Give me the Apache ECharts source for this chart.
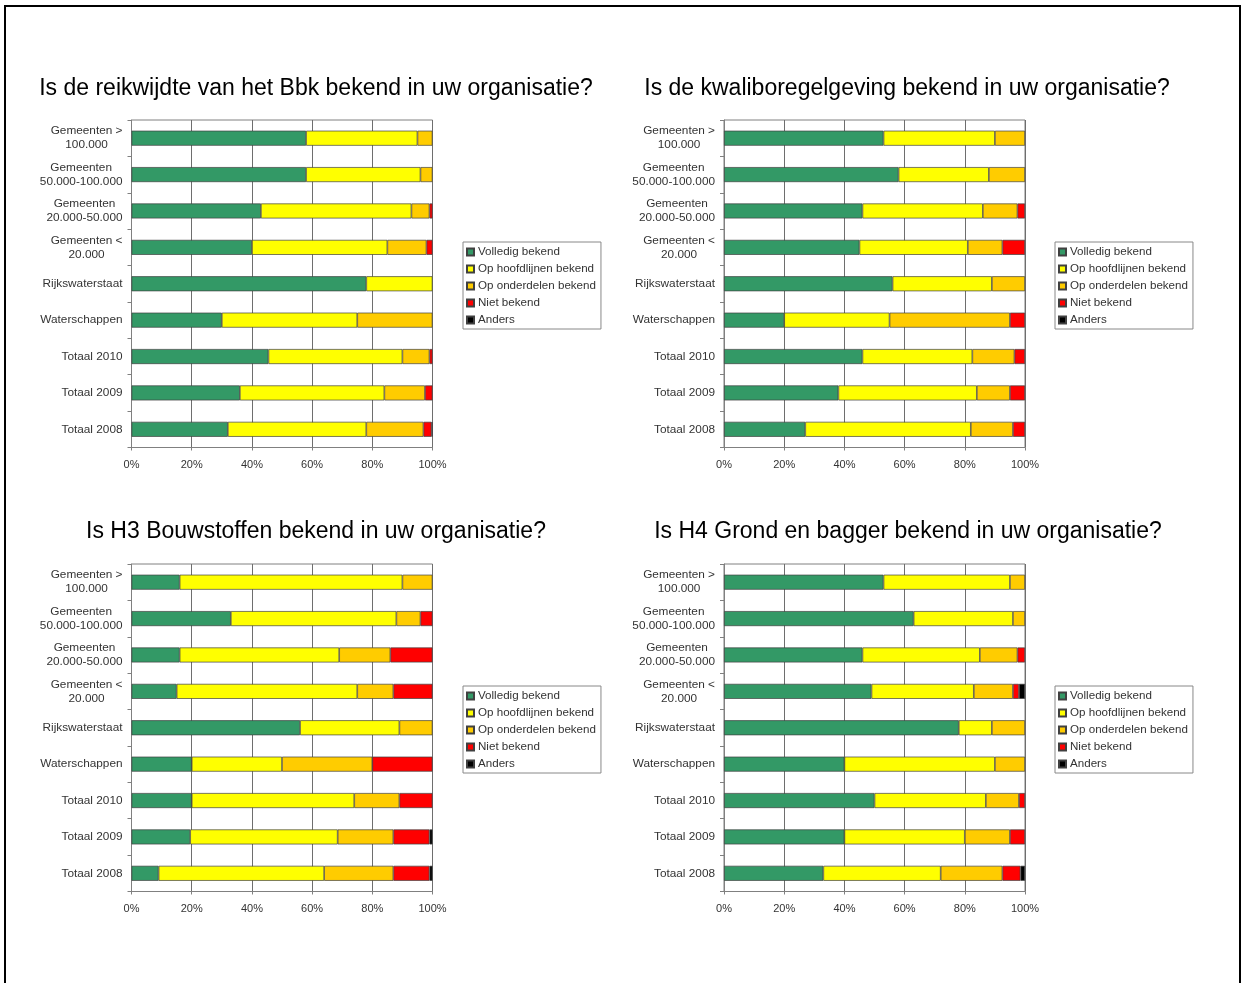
<!DOCTYPE html>
<html>
<head>
<meta charset="utf-8">
<script src="https://cdn.jsdelivr.net/npm/echarts@6/dist/echarts.min.js"></script>
<style>
  html, body { margin: 0; padding: 0; background: #fff; }
  #chart { width: 1242px; height: 983px; }
</style>
</head>
<body>
<div id="chart"></div>
<script>
// categorieën (van boven naar beneden)
const categories = [
  'Gemeenten >\n100.000', 'Gemeenten\n50.000-100.000', 'Gemeenten\n20.000-50.000',
  'Gemeenten <\n20.000', 'Rijkswaterstaat', 'Waterschappen',
  'Totaal 2010', 'Totaal 2009', 'Totaal 2008'
]

const seriesNames = ['Volledig bekend', 'Op hoofdlijnen bekend', 'Op onderdelen bekend', 'Niet bekend', 'Anders']
const seriesColors = ['#339966', '#FFFF00', '#FFCC00', '#FF0000', '#000000']

const xTicks = [0, 20, 40, 60, 80, 100]

const titles = [
  'Is de reikwijdte van het Bbk bekend in uw organisatie?',
  'Is de kwaliboregelgeving bekend in uw organisatie?',
  'Is H3 Bouwstoffen bekend in uw organisatie?',
  'Is H4 Grond en bagger bekend in uw organisatie?'
]

// Bbk reikwijdte (%)
const bbkVolledig    = [58, 58, 43, 40, 78, 30, 45.5, 36, 32]
const bbkHoofdlijnen = [37, 38, 50, 45, 22, 45, 44.5, 48, 46]
const bbkOnderdelen  = [5, 4, 6, 13, 0, 25, 9, 13.5, 19]
const bbkNiet        = [0, 0, 1, 2, 0, 0, 1, 2.5, 2.7]
const bbkAnders      = [0, 0, 0, 0, 0, 0, 0, 0, 0.3]

// kwaliboregelgeving (%)
const kwaVolledig    = [53, 58, 46, 45, 56, 20, 46, 38, 27]
const kwaHoofdlijnen = [37, 30, 40, 36, 33, 35, 36.5, 46, 55]
const kwaOnderdelen  = [10, 12, 11.5, 11.5, 11, 40, 14, 11, 14]
const kwaNiet        = [0, 0, 2.5, 7.5, 0, 5, 3.5, 5, 4]
const kwaAnders      = [0, 0, 0, 0, 0, 0, 0, 0, 0]

// H3 Bouwstoffen (%)
const h3Volledig    = [16, 33, 16, 15, 56, 20, 20, 19.5, 9]
const h3Hoofdlijnen = [74, 55, 53, 60, 33, 30, 54, 49, 55]
const h3Onderdelen  = [10, 8, 17, 12, 11, 30, 15, 18.5, 23]
const h3Niet        = [0, 4, 14, 13, 0, 20, 11, 12, 12]
const h3Anders      = [0, 0, 0, 0, 0, 0, 0, 1, 1]

// H4 Grond en bagger (%)
const h4Volledig    = [53, 63, 46, 49, 78, 40, 50, 40, 33]
const h4Hoofdlijnen = [42, 33, 39, 34, 11, 50, 37, 40, 39]
const h4Onderdelen  = [5, 4, 12.5, 13, 11, 10, 11, 15, 20.5]
const h4Niet        = [0, 0, 2.5, 2, 0, 0, 2, 5, 6]
const h4Anders      = [0, 0, 0, 2, 0, 0, 0, 0, 1.5]

const panels = [
  [bbkVolledig, bbkHoofdlijnen, bbkOnderdelen, bbkNiet, bbkAnders],
  [kwaVolledig, kwaHoofdlijnen, kwaOnderdelen, kwaNiet, kwaAnders],
  [h3Volledig, h3Hoofdlijnen, h3Onderdelen, h3Niet, h3Anders],
  [h4Volledig, h4Hoofdlijnen, h4Onderdelen, h4Niet, h4Anders]
]

// layout van de vier panelen
const layout = [
  { left: 131.5, top: 120, titleX: 316, titleY: 77, legendX: 463, legendY: 242 },
  { left: 724, top: 120, titleX: 907, titleY: 77, legendX: 1055, legendY: 242 },
  { left: 131.5, top: 564, titleX: 316, titleY: 520, legendX: 463, legendY: 686 },
  { left: 724, top: 564, titleX: 908, titleY: 520, legendX: 1055, legendY: 686 }
]

const FONT = 'Liberation Sans, Arial, sans-serif'
const axisGrey = '#808080'

const chart = echarts.init(document.getElementById('chart'), null, { renderer: 'canvas' })

const option = {
  animation: false,
  backgroundColor: '#fff',
  title: [],
  legend: [],
  grid: [],
  xAxis: [],
  yAxis: [],
  series: [],
  graphic: [{
    type: 'rect',
    shape: { x: 5, y: 6, width: 1235, height: 1100 },
    style: { fill: 'none', stroke: '#000', lineWidth: 2 },
    silent: true
  }]
}

layout.forEach((p, i) => {
  option.title.push({
    text: titles[i],
    left: p.titleX,
    top: p.titleY,
    textAlign: 'center',
    padding: 0,
    textStyle: { fontFamily: FONT, fontSize: 23, fontWeight: 'normal', color: '#000' }
  })
  option.grid.push({
    left: p.left, top: p.top, width: 301, height: 327.5,
    show: true, borderColor: axisGrey, borderWidth: 1, backgroundColor: 'transparent'
  })
  option.xAxis.push({
    gridIndex: i,
    type: 'value',
    min: xTicks[0],
    max: xTicks[xTicks.length - 1],
    interval: 20,
    axisLine: { show: true, lineStyle: { color: axisGrey, width: 1 } },
    axisTick: { show: true, length: 3, lineStyle: { color: axisGrey } },
    splitLine: { show: true, lineStyle: { color: '#6e6e6e', width: 1 } },
    axisLabel: {
      margin: 12, color: '#333', fontFamily: FONT, fontSize: 11,
      formatter: '{value}%'
    }
  })
  option.yAxis.push({
    gridIndex: i,
    type: 'category',
    inverse: true,
    data: categories,
    axisLine: { show: true, lineStyle: { color: axisGrey, width: 1 } },
    axisTick: { show: true, length: 4, alignWithLabel: false, lineStyle: { color: axisGrey } },
    axisLabel: {
      margin: 9,
      color: '#333',
      fontFamily: FONT,
      fontSize: 11.8,
      lineHeight: 14,
      formatter: (val) => val.split('\n').map(s => '{c|' + s + '}').join('\n'),
      rich: { c: { align: 'center', fontFamily: FONT, fontSize: 11.8, lineHeight: 14, color: '#333' } }
    }
  })
  option.legend.push({
    data: seriesNames,
    orient: 'vertical',
    left: p.legendX,
    top: p.legendY,
    padding: [4, 5, 3, 3],
    itemWidth: 7,
    itemHeight: 7,
    itemGap: 5,
    icon: 'rect',
    borderColor: '#888',
    borderWidth: 1,
    selectedMode: false,
    textStyle: { fontFamily: FONT, fontSize: 11.6, color: '#333', padding: [0, 0, 0, -1] }
  })
  panels[i].forEach((vals, s) => {
    option.series.push({
      name: seriesNames[s],
      type: 'bar',
      xAxisIndex: i,
      yAxisIndex: i,
      stack: 'p' + i,
      barWidth: 15,
      data: vals.map(v => (v === 0 ? '-' : v)),
      itemStyle: { color: seriesColors[s], borderColor: '#404040', borderWidth: 0.7 }
    })
  })
})

chart.setOption(option)
</script>
</body>
</html>
